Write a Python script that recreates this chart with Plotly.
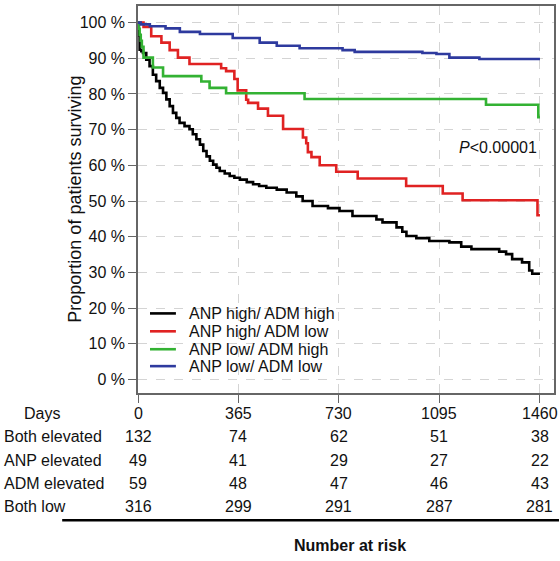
import plotly.graph_objects as go

# ---- survival curves (days, survival %) ----
black_days = [0, 3, 6, 12, 18, 30, 42, 54, 66, 79, 91, 103, 115, 127, 139, 151, 169, 187, 199,
              212, 225, 237, 249, 261, 273, 285, 297, 315, 333, 350, 370, 395, 418, 440, 466,
              504, 540, 575, 598, 634, 690, 732, 779, 866, 888, 939, 960, 975, 1011, 1058,
              1131, 1174, 1211, 1312, 1337, 1359, 1395, 1421, 1432, 1460]
black_surv = [100, 96.5, 92.4, 92.0, 91.5, 89.6, 87.8, 85.4, 83.6, 81.7, 80.3, 78.5, 76.6, 74.7,
              73.3, 71.9, 71.0, 70.1, 68.7, 67.3, 65.8, 64.0, 62.5, 61.3, 60.2, 59.3, 58.4,
              57.7, 57.0, 56.5, 56.0, 55.3, 54.7, 54.2, 53.7, 53.2, 52.4, 51.3, 50.0, 48.6,
              48.0, 47.2, 45.8, 44.8, 44.0, 42.6, 41.4, 40.2, 39.6, 38.8, 38.4, 37.2, 36.5,
              35.8, 35.1, 33.7, 32.8, 30.5, 29.6, 29.6]

red_days = [0, 20, 48, 85, 115, 145, 187, 302, 320, 350, 362, 393, 400, 436, 472, 527, 599,
            611, 617, 630, 660, 720, 798, 974, 1107, 1179, 1451, 1460]
red_surv = [100, 98.8, 96.2, 94.4, 92.3, 90.2, 88.4, 87.2, 86.4, 84.2, 81.0, 78.4, 77.5, 75.9,
            73.9, 70.2, 67.8, 66.2, 63.7, 62.3, 60.0, 58.2, 56.3, 54.2, 52.1, 50.2, 46.0, 46.0]

green_days = [0, 3, 6, 10, 14, 20, 54, 91, 230, 260, 320, 605, 1264, 1454, 1460]
green_surv = [100, 98.3, 96.6, 94.9, 93.2, 90.2, 87.4, 85.0, 83.5, 81.7, 80.2, 78.6, 77.0, 73.5, 73.5]

blue_days = [0, 10, 43, 100, 152, 225, 344, 442, 504, 587, 743, 787, 1033, 1084, 1131, 1240, 1460]
blue_surv = [100, 99.5, 99.0, 98.4, 97.4, 96.8, 95.7, 94.4, 93.5, 92.8, 92.3, 91.8, 91.5, 91.2,
             90.2, 89.8, 89.8]

series_names = ["ANP high/ ADM high", "ANP high/ ADM low", "ANP low/ ADM high", "ANP low/ ADM low"]
series_colors = ["#000000", "#E02222", "#33B233", "#2E3A9E"]

# ---- axis ticks ----
x_ticks = [0, 365, 730, 1095, 1460]
y_ticks = [0, 10, 20, 30, 40, 50, 60, 70, 80, 90, 100]
y_ticktext = [f"{v} %" for v in y_ticks]

# ---- number at risk table ----
risk_labels = ["Both elevated", "ANP elevated", "ADM elevated", "Both low"]
risk_both_elevated = [132, 74, 62, 51, 38]
risk_anp_elevated = [49, 41, 29, 27, 22]
risk_adm_elevated = [59, 48, 47, 46, 43]
risk_both_low = [316, 299, 291, 287, 281]

FONT = "Liberation Sans, Arial, Helvetica, sans-serif"
TXT = "#111111"

fig = go.Figure()
curves = [(black_days, black_surv), (red_days, red_surv), (green_days, green_surv), (blue_days, blue_surv)]
for (d, s), name, col in zip(curves, series_names, series_colors):
    fig.add_trace(go.Scatter(x=d, y=s, mode="lines", name=name,
                             line=dict(color=col, width=2.6, shape="hv"),
                             showlegend=False, hoverinfo="skip"))

L, R, T, B = 138, 5, 4, 168
W, H = 560, 561
pw, ph = W - L - R, H - T - B


def px(xp):
    return (xp - L) / pw


def py(yp):
    return (H - B - yp) / ph


fig.update_layout(
    width=W, height=H,
    margin=dict(l=L, r=R, t=T, b=B),
    paper_bgcolor="white", plot_bgcolor="white",
    font=dict(family=FONT, size=16, color=TXT),
    xaxis=dict(range=[0, 1511], tickvals=x_ticks, showticklabels=False,
               ticks="outside", ticklen=8, tickcolor="#666666", tickwidth=1.2,
               showline=True, mirror=True, linecolor="#666666", linewidth=1.5,
               showgrid=True, gridcolor="#D4D4D4", griddash="dash", gridwidth=1,
               zeroline=False, fixedrange=True),
    yaxis=dict(range=[-3.82, 104.66], tickvals=y_ticks, ticktext=y_ticktext,
               ticks="outside", ticklen=8, tickcolor="#666666", tickwidth=1.2,
               tickfont=dict(size=16, color=TXT, family=FONT),
               showline=True, mirror=True, linecolor="#666666", linewidth=1.5,
               showgrid=True, gridcolor="#D4D4D4", griddash="dash", gridwidth=1,
               zeroline=False, fixedrange=True),
)

ann = []
shapes = []
# y-axis title
ann.append(dict(text="Proportion of patients surviving", xref="paper", yref="paper",
                x=px(62), y=0.5, textangle=-90, showarrow=False,
                font=dict(size=18, family=FONT, color=TXT)))
# p-value
ann.append(dict(text="<i>P</i>&lt;0.00001", xref="paper", yref="paper", x=px(540), y=py(146),
                xanchor="right", yanchor="middle", showarrow=False,
                font=dict(size=16, family=FONT, color=TXT)))
# manual legend
leg_rows = [313, 331, 349, 366]
for name, col, yr in zip(series_names, series_colors, leg_rows):
    shapes.append(dict(type="line", xref="paper", yref="paper", x0=px(150), x1=px(176),
                       y0=py(yr), y1=py(yr), line=dict(color=col, width=2.6)))
    ann.append(dict(text=name, xref="paper", yref="paper", x=px(187), y=py(yr),
                    xanchor="left", yanchor="middle", showarrow=False,
                    font=dict(size=16, family=FONT, color=TXT)))

# risk table
ann.append(dict(text="Days", xref="paper", yref="paper", x=px(22), y=py(414),
                xanchor="left", yanchor="middle", showarrow=False))
for t in x_ticks:
    ann.append(dict(text=str(t), xref="x", yref="paper", x=t, y=py(414),
                    xanchor="center", yanchor="middle", showarrow=False))
risk_rows = [risk_both_elevated, risk_anp_elevated, risk_adm_elevated, risk_both_low]
row_y = [437, 461, 484, 507]
for lab, vals, yr in zip(risk_labels, risk_rows, row_y):
    ann.append(dict(text=lab, xref="paper", yref="paper", x=px(2), y=py(yr),
                    xanchor="left", yanchor="middle", showarrow=False))
    for t, v in zip(x_ticks, vals):
        ann.append(dict(text=str(v), xref="x", yref="paper", x=t, y=py(yr),
                        xanchor="center", yanchor="middle", showarrow=False))
shapes.append(dict(type="line", xref="paper", yref="paper", x0=px(62), x1=px(560),
                   y0=py(521), y1=py(521), line=dict(color="#000000", width=2.5)))
ann.append(dict(text="<b>Number at risk</b>", xref="paper", yref="paper", x=px(351), y=py(546),
                xanchor="center", yanchor="middle", showarrow=False,
                font=dict(size=16, family=FONT, color=TXT)))

fig.update_layout(annotations=ann, shapes=shapes)
fig.write_html("out.html", config={"displayModeBar": False},
               post_script="document.body.style.margin='0';document.body.style.padding='0';"
                           "document.body.style.overflow='hidden';")
